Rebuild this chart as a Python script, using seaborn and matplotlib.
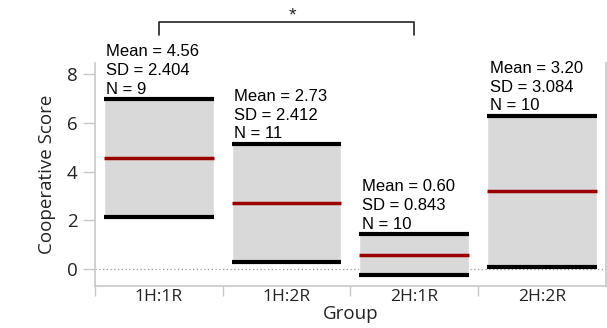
import matplotlib
matplotlib.use("Agg")
import matplotlib.pyplot as plt
import seaborn as sns
import numpy as np

# group summaries
groups = ["1H:1R", "1H:2R", "2H:1R", "2H:2R"]
means = [4.56, 2.73, 0.60, 3.20]
sds = [2.404, 2.412, 0.843, 3.084]
ns = [9, 11, 10, 10]

sns.set_theme(style="white")
plt.rcParams['font.family'] = ['Open Sans', 'DejaVu Sans']

fig = plt.figure(figsize=(6.07, 3.28), dpi=100)
ax = fig.add_axes([0.1565, 0.128, 0.8415, 0.680])

x = np.arange(len(groups))
lo = np.array(means) - np.array(sds)
hi = np.array(means) + np.array(sds)
w = 0.86

# grey box spanning mean +/- SD
ax.bar(x, hi - lo, bottom=lo, width=w, color="#d9d9d9", zorder=1)
ax.hlines(hi, x - w / 2, x + w / 2, color="black", lw=3, zorder=3)
ax.hlines(lo, x - w / 2, x + w / 2, color="black", lw=3, zorder=3)
ax.hlines(means, x - w / 2, x + w / 2, color="#9b0000", lw=2.5, zorder=3)
ax.axhline(0, color="#999999", lw=0.9, ls=(0, (1, 2)), zorder=0)

for i in range(len(groups)):
    ax.text(x[i] - w / 2 + 0.02, hi[i] + 0.1,
            f"Mean = {means[i]:.2f}\nSD = {sds[i]:.3f}\nN = {ns[i]}",
            ha="left", va="bottom", fontsize=12, family="Liberation Sans",
            linespacing=1.3, color="black")

# significance bracket
ax.plot([0, 0, 2, 2], [9.6, 10.1, 10.1, 9.6], color="#222222", lw=1.2,
        clip_on=False)
ax.text(1.05, 10.0, "*", ha="center", va="bottom", fontsize=14,
        family="Liberation Sans", clip_on=False)

ax.set_xlim(-0.5, 3.5)
ax.set_ylim(-0.68, 8.44)
ax.set_yticks([0, 2, 4, 6, 8])
ax.set_xticks(x)
ax.set_xticklabels(groups)
ax.set_xticks([-0.5, 0.5, 1.5, 2.5], minor=True)
ax.tick_params(axis="x", which="major", length=0, labelsize=12.5, pad=2,
               labelcolor="#222222")
ax.tick_params(axis="x", which="minor", length=7, width=1, color="#c8c8c8",
               bottom=True)
ax.tick_params(axis="y", length=9, width=1, color="#c8c8c8", labelsize=13.5,
               labelcolor="#222222", left=True)

for s in ["left", "bottom", "right"]:
    ax.spines[s].set_color("#c8c8c8")
    ax.spines[s].set_linewidth(1.2)
ax.spines["top"].set_visible(False)

ax.set_xlabel("Group", fontsize=13.5, labelpad=0, color="#222222")
ax.set_ylabel("Cooperative Score", fontsize=13.5, labelpad=8, color="#222222")

fig.savefig("out.png", dpi=100)
